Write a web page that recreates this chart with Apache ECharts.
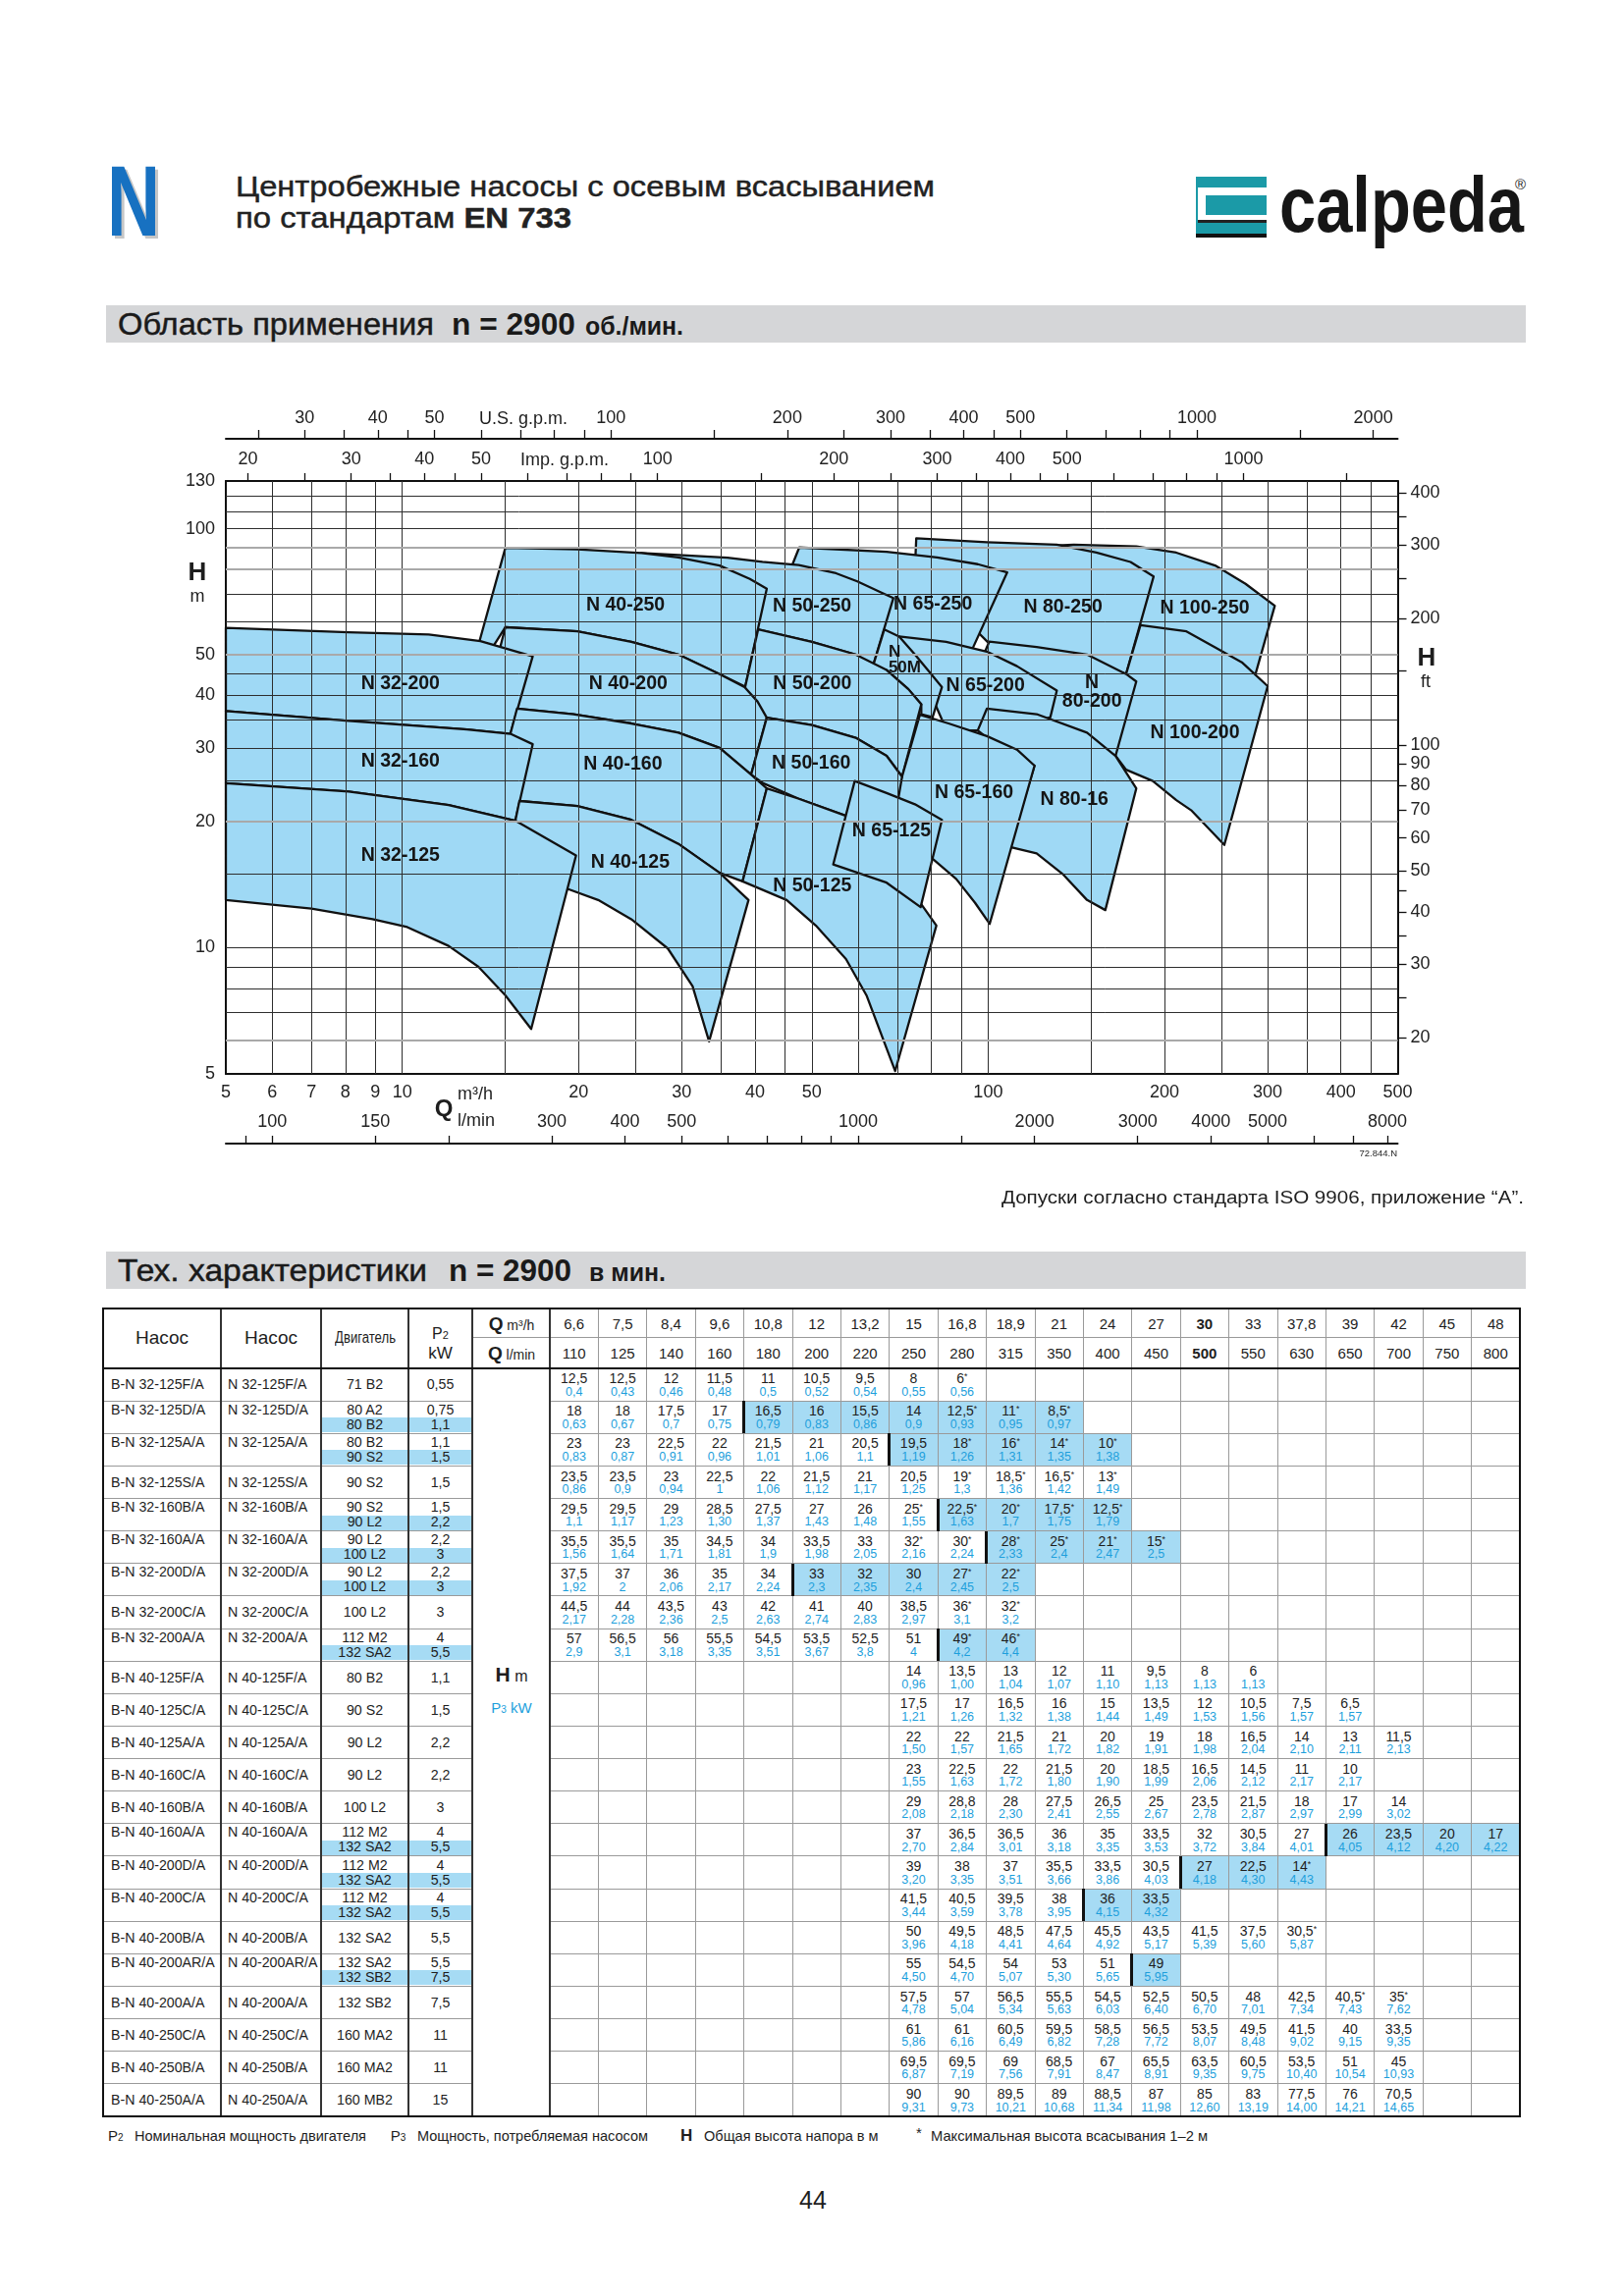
<!DOCTYPE html>
<html><head><meta charset="utf-8"><title>N</title>
<script src="https://cdn.jsdelivr.net/npm/echarts@6.0.0/dist/echarts.min.js"></script>
<style>
html,body{margin:0;padding:0;background:#fff}
body{position:relative;width:1653px;height:2339px;overflow:hidden;font-family:'Liberation Sans',Arial,Helvetica,sans-serif;color:#1e1e1e}
.a{position:absolute;white-space:nowrap}
.st{font-size:0.62em;vertical-align:0.45em;line-height:0}
.med{-webkit-text-stroke:0.45px currentColor}
</style></head>
<body>
<div id="chart" class="a" style="left:0;top:380px;width:1653px;height:880px"></div>
<script>
// ---------------- chart data (Q in m3/h, H in m) ----------------
const N100_250 = [[125,91.0],[140,91.6],[179,90.8],[209.5,87.7],[244,81.7],[275,73.9],[308.5,65.5],[286,45],[244,50],[183,56],[170,70]];
const N80_250  = [[75.4,94.9],[99.5,92.9],[131,91.6],[153,87.7],[175,83.3],[191.6,76.9],[172,45],[150,48],[105,50],[75,80]];
const N65_250  = [[47.6,90.2],[67.1,88.1],[81.8,85.4],[96,82.3],[107.8,78.7],[93.8,51.3],[70,52],[50,62],[46,80]];
const N50_250  = [[24,84],[25.6,87.5],[29.6,86.6],[35.9,85.3],[41.2,83.4],[47.5,81.9],[55,78.3],[59.8,74.9],[65.5,70.6],[68.9,68.3],[63.5,46.7],[59.4,50.1],[50,53.7],[40.7,57.4],[37,55]];
const N40_250  = [[13.4,51],[15,90],[19.9,89.3],[25.6,87.5],[29.6,85.4],[34.8,81.7],[39.2,75.9],[41.9,71.9],[38.5,42],[34.8,45],[29.6,50.1],[24.6,53.7],[19.9,56.9],[15,58.2],[14,50]];
const N100_200 = [[182,58.9],[218,56.9],[244,52.1],[271,48],[300,42.1],[253,17.6],[222,21.3],[209.5,22.5],[191,25],[172,26.6],[165,28.7],[160,35],[172,45]];
const N80_200  = [[100.5,53.8],[121,52.2],[147.5,50.1],[172,45],[179,43.2],[165,28.7],[130,34],[100,36],[95,45]];
const N65_200  = [[70.5,55.3],[84.8,53.7],[99.5,50.9],[112,47],[131,41.1],[127.7,35.5],[110,33],[85,33],[80,40],[72,52]];
const N50M     = [[66.5,57.5],[70.5,55.3],[75,50.1],[79.2,45.7],[83.4,41.9],[80.4,35.5],[76.9,36.1],[76.9,38.1],[73.1,41.4],[67.1,46.0],[63.5,46.7]];
const N50_200  = [[40.5,57.5],[50,53.7],[59.4,50.1],[67.1,46.0],[73.1,41.4],[76.9,38.1],[71.3,25.6],[67.1,28.7],[59.4,31.7],[50,34.0],[41.9,35.4],[38.5,38],[38.5,42]];
const N40_200  = [[15,58.2],[19.9,56.9],[24.6,53.7],[29.6,50.1],[34.8,45.0],[38.4,41.9],[40.4,38.7],[41.9,35.4],[39.4,25.9],[34.8,30.0],[29.6,32.6],[24.6,34.3],[19.6,36.1],[15.7,37.2],[14.3,45]];
const N32_200  = [[5,58],[8.1,56.6],[11.1,55.9],[13.6,53.9],[16.7,49.6],[15.3,32.4],[12.9,33.2],[8.1,34.8],[5,36.7]];
const N80_160  = [[99.5,37.2],[121,36.1],[147.5,32.6],[165,28.7],[179,24],[158.5,12.3],[147.5,13],[134,15],[121,16.8],[109,17.4],[120,27.2],[108,29],[96,33]];
const N65_160  = [[76.5,36.0],[85.6,34.3],[99.5,32.0],[112,29.7],[120,27.2],[100.6,11.4],[95,12.8],[88.2,14.6],[80.4,16.3],[76,20],[68,22],[71.3,25.6]];
const N50_160  = [[41.9,35.4],[50,34],[59.4,31.7],[67.1,28.7],[71.3,25.6],[70,22],[60,20.5],[56.9,20.7],[47.4,22.7],[41.3,24.7],[39.4,25.9]];
const N40_160  = [[15.7,37.2],[19.6,36.1],[24.6,34.3],[29.6,32.6],[34.8,30.0],[39.4,25.9],[41.9,24.0],[38.1,14.4],[34.8,15.1],[29.6,17.7],[24.6,20.2],[19.9,21.8],[15.85,22.4],[15,25],[15.3,32.4]];
const N32_160  = [[5,36.7],[8.1,34.8],[12.9,33.2],[15.3,32.4],[16.7,30.6],[15.6,20.1],[12,21.9],[8.1,23.6],[5,24.7]];
const N50_125  = [[41.9,24.0],[47.4,22.7],[56.9,20.7],[65,18],[76,13],[81.6,11.3],[69.4,5.08],[62,7.7],[57.2,9.4],[50.8,11.3],[45.3,13.0],[38.1,14.4]];
const N65_125  = [[59.2,25.0],[67.1,23.4],[75,22.0],[83.4,20.2],[76.7,12.5],[67.1,14.3],[54.4,15.8]];
const N40_125  = [[15.85,22.4],[19.9,21.8],[24.6,20.2],[29.6,17.7],[34.8,15.1],[39,13.0],[33.4,5.98],[31.3,8.1],[28.4,9.96],[24.6,11.7],[21.6,13.0],[19.2,13.8],[16,12],[15.6,20.1]];
const N32_125  = [[5,24.7],[8.1,23.6],[12,21.9],[15.6,20.1],[19.8,16.6],[16.6,6.4],[15,7.7],[13.5,9.0],[12,10.1],[10.2,11.2],[8.9,11.7],[7.0,12.4],[5,13.0]];
// drawing order (first = lowest)
const REGION_LIST = [N100_250,N80_250,N65_250,N50_250,N40_250,
  N100_200,N80_200,N65_200,N50M,N50_200,N40_200,N32_200,
  N80_160,N65_160,N50_160,N40_160,N32_160,
  N50_125,N65_125,N40_125,N32_125];

const LABEL_NAMES = ['N 40-250','N 50-250','N 65-250','N 80-250','N 100-250','N 32-200','N 40-200','N 50-200','N\n50M','N 65-200','N\n80-200','N 100-200','N 32-160','N 40-160','N 50-160','N 65-160','N 80-16','N 65-125','N 32-125','N 40-125','N 50-125'];
const LABEL_POS = [[24.05,65.6],[50.06,65.2],[80.5,66.0],[134.2,64.9],[234.3,64.5],[9.93,42.6],[24.3,42.7],[50.1,42.6],[67.6,48.5],[98.95,42.3],[150.4,40.7],[225.4,32.5],[9.93,27.8],[23.8,27.4],[49.9,27.5],[94.6,23.4],[140.3,22.6],[68.4,19.0],[9.93,16.6],[24.5,16.0],[50.1,14.0]];

const Q_GRID = [6,7,8,9,10,15,20,25,30,35,40,45,50,60,70,80,90,100,150,200,250,300,350,400,450];
const H_GRID = [7,8,9,10,15,25,30,35,40,45,60,70,100,110,120];
const H_GRID_GRAY = [6,20,50,80,90];

const M3H_LABELS = [5,6,7,8,9,10,20,30,40,50,100,200,300,400,500];
const LMIN_TICKS = [90,100,150,200,300,400,500,600,700,800,900,1000,1500,2000,3000,4000,5000,6000,7000,8000];
const LMIN_LABELS = [100,150,300,400,500,1000,2000,3000,4000,5000,8000];
const US_TICKS = [25,30,35,40,45,50,60,70,80,90,100,150,200,250,300,350,400,450,500,600,700,800,900,1000,1500,2000];
const US_LABELS = [30,40,50,100,200,300,400,500,1000,2000];
const IMP_TICKS = [20,25,30,35,40,45,50,60,70,80,90,100,150,200,250,300,350,400,450,500,600,700,800,900,1000,1500];
const IMP_LABELS = [20,30,40,50,100,200,300,400,500,1000];
const HM_LABELS = [5,10,20,30,40,50,100,130];
const FT_TICKS = [20,25,30,35,40,45,50,60,70,80,90,100,150,200,250,300,350,400];
const FT_LABELS = [20,30,40,50,60,70,80,90,100,200,300,400];

// ---------------- table data ----------------
const Q_M3H = ['6,6','7,5','8,4','9,6','10,8','12','13,2','15','16,8','18,9','21','24','27','30','33','37,8','39','42','45','48'];
const Q_LMIN = ['110','125','140','160','180','200','220','250','280','315','350','400','450','500','550','630','650','700','750','800'];
const PUMP_B = ['B-N 32-125F/A','B-N 32-125D/A','B-N 32-125A/A','B-N 32-125S/A','B-N 32-160B/A','B-N 32-160A/A','B-N 32-200D/A','B-N 32-200C/A','B-N 32-200A/A','B-N 40-125F/A','B-N 40-125C/A','B-N 40-125A/A','B-N 40-160C/A','B-N 40-160B/A','B-N 40-160A/A','B-N 40-200D/A','B-N 40-200C/A','B-N 40-200B/A','B-N 40-200AR/A','B-N 40-200A/A','B-N 40-250C/A','B-N 40-250B/A','B-N 40-250A/A'];
const PUMP_N = ['N 32-125F/A','N 32-125D/A','N 32-125A/A','N 32-125S/A','N 32-160B/A','N 32-160A/A','N 32-200D/A','N 32-200C/A','N 32-200A/A','N 40-125F/A','N 40-125C/A','N 40-125A/A','N 40-160C/A','N 40-160B/A','N 40-160A/A','N 40-200D/A','N 40-200C/A','N 40-200B/A','N 40-200AR/A','N 40-200A/A','N 40-250C/A','N 40-250B/A','N 40-250A/A'];
const MOTOR = [['71 B2'],['80 A2','80 B2'],['80 B2','90 S2'],['90 S2'],['90 S2','90 L2'],['90 L2','100 L2'],['90 L2','100 L2'],['100 L2'],['112 M2','132 SA2'],['80 B2'],['90 S2'],['90 L2'],['90 L2'],['100 L2'],['112 M2','132 SA2'],['112 M2','132 SA2'],['112 M2','132 SA2'],['132 SA2'],['132 SA2','132 SB2'],['132 SB2'],['160 MA2'],['160 MA2'],['160 MB2']];
const P2 = [['0,55'],['0,75','1,1'],['1,1','1,5'],['1,5'],['1,5','2,2'],['2,2','3'],['2,2','3'],['3'],['4','5,5'],['1,1'],['1,5'],['2,2'],['2,2'],['3'],['4','5,5'],['4','5,5'],['4','5,5'],['5,5'],['5,5','7,5'],['7,5'],['11'],['11'],['15']];
const START_COL = [0,0,0,0,0,0,0,0,0,7,7,7,7,7,7,7,7,7,7,7,7,7,7];
const HIGHLIGHT = [null,[4,10],[7,11],null,[8,11],[9,12],[5,9],null,[8,9],null,null,null,null,null,[16,19],[13,15],[11,12],null,[12,12],null,null,null,null];
const H_VALUES = [
 ['12,5','12,5','12','11,5','11','10,5','9,5','8','6*'],
 ['18','18','17,5','17','16,5','16','15,5','14','12,5*','11*','8,5*'],
 ['23','23','22,5','22','21,5','21','20,5','19,5','18*','16*','14*','10*'],
 ['23,5','23,5','23','22,5','22','21,5','21','20,5','19*','18,5*','16,5*','13*'],
 ['29,5','29,5','29','28,5','27,5','27','26','25*','22,5*','20*','17,5*','12,5*'],
 ['35,5','35,5','35','34,5','34','33,5','33','32*','30*','28*','25*','21*','15*'],
 ['37,5','37','36','35','34','33','32','30','27*','22*'],
 ['44,5','44','43,5','43','42','41','40','38,5','36*','32*'],
 ['57','56,5','56','55,5','54,5','53,5','52,5','51','49*','46*'],
 ['14','13,5','13','12','11','9,5','8','6'],
 ['17,5','17','16,5','16','15','13,5','12','10,5','7,5','6,5'],
 ['22','22','21,5','21','20','19','18','16,5','14','13','11,5'],
 ['23','22,5','22','21,5','20','18,5','16,5','14,5','11','10'],
 ['29','28,8','28','27,5','26,5','25','23,5','21,5','18','17','14'],
 ['37','36,5','36,5','36','35','33,5','32','30,5','27','26','23,5','20','17'],
 ['39','38','37','35,5','33,5','30,5','27','22,5','14*'],
 ['41,5','40,5','39,5','38','36','33,5'],
 ['50','49,5','48,5','47,5','45,5','43,5','41,5','37,5','30,5*'],
 ['55','54,5','54','53','51','49'],
 ['57,5','57','56,5','55,5','54,5','52,5','50,5','48','42,5','40,5*','35*'],
 ['61','61','60,5','59,5','58,5','56,5','53,5','49,5','41,5','40','33,5'],
 ['69,5','69,5','69','68,5','67','65,5','63,5','60,5','53,5','51','45'],
 ['90','90','89,5','89','88,5','87','85','83','77,5','76','70,5']];
const P3_VALUES = [
 ['0,4','0,43','0,46','0,48','0,5','0,52','0,54','0,55','0,56'],
 ['0,63','0,67','0,7','0,75','0,79','0,83','0,86','0,9','0,93','0,95','0,97'],
 ['0,83','0,87','0,91','0,96','1,01','1,06','1,1','1,19','1,26','1,31','1,35','1,38'],
 ['0,86','0,9','0,94','1','1,06','1,12','1,17','1,25','1,3','1,36','1,42','1,49'],
 ['1,1','1,17','1,23','1,30','1,37','1,43','1,48','1,55','1,63','1,7','1,75','1,79'],
 ['1,56','1,64','1,71','1,81','1,9','1,98','2,05','2,16','2,24','2,33','2,4','2,47','2,5'],
 ['1,92','2','2,06','2,17','2,24','2,3','2,35','2,4','2,45','2,5'],
 ['2,17','2,28','2,36','2,5','2,63','2,74','2,83','2,97','3,1','3,2'],
 ['2,9','3,1','3,18','3,35','3,51','3,67','3,8','4','4,2','4,4'],
 ['0,96','1,00','1,04','1,07','1,10','1,13','1,13','1,13'],
 ['1,21','1,26','1,32','1,38','1,44','1,49','1,53','1,56','1,57','1,57'],
 ['1,50','1,57','1,65','1,72','1,82','1,91','1,98','2,04','2,10','2,11','2,13'],
 ['1,55','1,63','1,72','1,80','1,90','1,99','2,06','2,12','2,17','2,17'],
 ['2,08','2,18','2,30','2,41','2,55','2,67','2,78','2,87','2,97','2,99','3,02'],
 ['2,70','2,84','3,01','3,18','3,35','3,53','3,72','3,84','4,01','4,05','4,12','4,20','4,22'],
 ['3,20','3,35','3,51','3,66','3,86','4,03','4,18','4,30','4,43'],
 ['3,44','3,59','3,78','3,95','4,15','4,32'],
 ['3,96','4,18','4,41','4,64','4,92','5,17','5,39','5,60','5,87'],
 ['4,50','4,70','5,07','5,30','5,65','5,95'],
 ['4,78','5,04','5,34','5,63','6,03','6,40','6,70','7,01','7,34','7,43','7,62'],
 ['5,86','6,16','6,49','6,82','7,28','7,72','8,07','8,48','9,02','9,15','9,35'],
 ['6,87','7,19','7,56','7,91','8,47','8,91','9,35','9,75','10,40','10,54','10,93'],
 ['9,31','9,73','10,21','10,68','11,34','11,98','12,60','13,19','14,00','14,21','14,65']];

// unit conversions
const M3H_TO_LMIN = 1000/60, M3H_TO_USGPM = 4.40287, M3H_TO_IMPGPM = 3.66615, M_TO_FT = 3.28084;

// ---------------- helpers ----------------
const ASC = 0.8465;
function T(html, x, base, fs, o) {
  o = o || {};
  const e = document.createElement('div');
  e.className = 'a' + (o.cls ? ' ' + o.cls : '');
  e.innerHTML = html;
  e.style.fontSize = fs + 'px';
  e.style.lineHeight = fs + 'px';
  e.style.top = (base - ASC * fs) + 'px';
  if (o.bold) e.style.fontWeight = 'bold';
  if (o.color) e.style.color = o.color;
  if (o.family) e.style.fontFamily = o.family;
  if (o.style) Object.assign(e.style, o.style);
  document.body.appendChild(e);
  if (o.box) { e.style.left = o.box[0] + 'px'; e.style.width = o.box[1] + 'px'; e.style.textAlign = 'center'; return e; }
  const w = e.getBoundingClientRect().width;
  const s = o.w ? o.w / w : 1;
  const al = o.align || 'left';
  const left = al === 'left' ? x : (al === 'center' ? x - w * s / 2 : x - w * s);
  e.style.left = left + 'px';
  if (s !== 1) { e.style.transformOrigin = '0 0'; e.style.transform = 'scaleX(' + s.toFixed(4) + ')'; }
  return e;
}
function R(x, y, w, h, c) {
  const d = document.createElement('div');
  d.className = 'a';
  Object.assign(d.style, {left: x + 'px', top: y + 'px', width: w + 'px', height: h + 'px', background: c});
  document.body.appendChild(d);
  return d;
}
const star = s => s.replace('*', '<span class="st">*</span>');

// ---------------- page header ----------------
T('N', 109, 240, 102, {bold: true, color: '#1771c1', w: 54, style: {textShadow: '4px 3px 0 #c6c6c6'}});
T('Центробежные насосы с осевым всасыванием', 240, 201, 29, {w: 712, color: '#222', cls: 'med'});
T('по стандартам <b>EN 733</b>', 240, 233, 29, {w: 342, color: '#222', cls: 'med'});
// logo
R(1218, 238, 72, 4, '#111');
R(1218, 180, 72, 58, '#1b9aa7');
R(1220, 191, 70, 36, '#fff');
R(1228, 199, 62, 20, '#1b9aa7');
R(1220, 224, 70, 3, '#222');
T('calpeda', 1303, 237, 80, {bold: true, w: 249, color: '#161616'});
T('®', 1543, 193, 15, {color: '#222'});
// section bands
R(108, 311, 1446, 38, '#d5d6d8');
T('Область применения', 120, 341, 31, {w: 322, color: '#1a1a1a', cls: 'med'});
T('n = 2900', 460, 341, 31, {bold: true, w: 126, color: '#1a1a1a'});
T('об./мин.', 596, 341, 25, {bold: true, w: 100, color: '#1a1a1a'});
R(108, 1275, 1446, 38, '#d5d6d8');
T('Тех. характеристики', 120, 1305, 31, {w: 315, color: '#1a1a1a', cls: 'med'});
T('n = 2900', 457, 1305, 31, {bold: true, w: 125, color: '#1a1a1a'});
T('в мин.', 600, 1305, 25, {bold: true, w: 78, color: '#1a1a1a'});

// ---------------- chart ----------------
const chart = echarts.init(document.getElementById('chart'), null, {renderer: 'canvas'});
const fmt = v => String(Math.round(v));
const AX = {color: '#111', width: 2};
const LBL = {fontSize: 18, color: '#222', formatter: fmt};
const option = {
  animation: false,
  textStyle: {fontFamily: "'Liberation Sans', Arial, sans-serif"},
  grid: {left: 230, top: 110, width: 1193.5, height: 604, show: false},
  xAxis: [
    {type: 'log', min: 5, max: 500, position: 'bottom', axisLine: {show: true, onZero: false, lineStyle: AX}, axisTick: {show: false}, splitLine: {show: false}, axisLabel: Object.assign({customValues: M3H_LABELS, margin: 10}, LBL)},
    {type: 'log', min: 5 * M3H_TO_LMIN, max: 500 * M3H_TO_LMIN, position: 'bottom', offset: 71, axisLine: {show: true, onZero: false, lineStyle: AX}, axisTick: {show: true, inside: true, length: 8, customValues: LMIN_TICKS, lineStyle: {color: '#111', width: 1.3}}, splitLine: {show: false}, axisLabel: Object.assign({inside: true, customValues: LMIN_LABELS, margin: 13}, LBL)},
    {type: 'log', min: 5 * M3H_TO_USGPM, max: 500 * M3H_TO_USGPM, position: 'top', offset: 43, axisLine: {show: true, onZero: false, lineStyle: AX}, axisTick: {show: true, length: 9, customValues: US_TICKS, lineStyle: {color: '#111', width: 1.3}}, splitLine: {show: false}, axisLabel: Object.assign({customValues: US_LABELS, margin: 12}, LBL)},
    {type: 'log', min: 5 * M3H_TO_IMPGPM, max: 500 * M3H_TO_IMPGPM, position: 'top', offset: 0, axisLine: {show: true, onZero: false, lineStyle: AX}, axisTick: {show: true, length: 8, customValues: IMP_TICKS, lineStyle: {color: '#111', width: 1.3}}, splitLine: {show: false}, axisLabel: Object.assign({customValues: IMP_LABELS, margin: 13}, LBL)}
  ],
  yAxis: [
    {type: 'log', min: 5, max: 130, position: 'left', axisLine: {show: true, onZero: false, lineStyle: AX}, axisTick: {show: false}, splitLine: {show: false}, axisLabel: Object.assign({customValues: HM_LABELS, margin: 11}, LBL)},
    {type: 'log', min: 5 * M_TO_FT, max: 130 * M_TO_FT, position: 'right', axisLine: {show: true, onZero: false, lineStyle: AX}, axisTick: {show: true, length: 9, customValues: FT_TICKS, lineStyle: {color: '#111', width: 1.3}}, splitLine: {show: false}, axisLabel: Object.assign({customValues: FT_LABELS, margin: 13}, LBL)}
  ],
  series: [
    {
      type: 'custom', name: 'regions', z: 2, xAxisIndex: 0, yAxisIndex: 0,
      encode: {x: 0, y: 1},
      data: REGION_LIST.map(r => r[0]),
      renderItem: function (params, api) {
        const pts = REGION_LIST[params.dataIndex].map(p => api.coord(p));
        return {type: 'polygon', shape: {points: pts}, style: {fill: '#9fd9f5', stroke: '#111', lineWidth: 2.3, lineJoin: 'round'}};
      },
      silent: true
    },
    {
      type: 'line', name: 'grid', z: 3, xAxisIndex: 0, yAxisIndex: 0, data: [[5, 5]], showSymbol: false, lineStyle: {width: 0}, silent: true,
      markLine: {
        silent: true, symbol: ['none', 'none'], label: {show: false}, z: 3, animation: false,
        lineStyle: {color: '#2e2e2e', width: 1, type: 'solid'},
        data: Q_GRID.map(v => ({xAxis: v})).concat(H_GRID.map(v => ({yAxis: v})))
          .concat(H_GRID_GRAY.map(v => ({yAxis: v, lineStyle: {color: '#a9a9a9', width: 2, type: 'solid'}})))
      }
    },
    {
      type: 'scatter', name: 'labels', z: 6, xAxisIndex: 0, yAxisIndex: 0, symbolSize: 2,
      itemStyle: {color: 'rgba(0,0,0,0)'}, silent: true,
      label: {show: true, position: 'inside', formatter: '{b}', fontSize: 19.5, fontWeight: 'bold', color: '#151515', lineHeight: 19, opacity: 1},
      labelLayout: {hideOverlap: false},
      data: LABEL_POS.map((p, i) => {
        const d = {value: p, name: LABEL_NAMES[i]};
        if (LABEL_NAMES[i] === 'N\n50M') d.label = {align: 'left', fontSize: 17, lineHeight: 16};
        return d;
      })
    }
  ]
};
chart.setOption(option);

// chart annotations
T('U.S. g.p.m.', 533, 432.4, 18, {align: 'center'});
T('Imp. g.p.m.', 575, 474.4, 18, {align: 'center'});
T('H', 201, 591.3, 26, {bold: true, align: 'center'});
T('m', 201, 613.3, 18, {align: 'center'});
T('H', 1453, 678.3, 26, {bold: true, align: 'center'});
T('ft', 1452, 700, 18, {align: 'center'});
T('Q', 452, 1137, 24, {bold: true, align: 'center'});
T('m³/h', 466, 1120, 18);
T('l/min', 466, 1147, 18);
T('72.844.N', 1423, 1178, 9.5, {align: 'right'});
T('Допуски согласно стандарта ISO 9906, приложение “A”.', 1552, 1226, 18, {align: 'right', w: 532});

// ---------------- table ----------------
const TR = 1548, CW = (TR - 560) / 20;
const TY0 = 1333, TY1 = 1362, TY2 = 1394, TB = 2156, RH = (TB - TY2) / 23;
const BLUE_BG = '#a6dbf4', P3C = '#1e9fdc';
for (let i = 0; i < 23; i++) {
  const top = TY2 + i * RH;
  if (MOTOR[i].length === 2) R(327, top + 17, 154, 15, BLUE_BG);
  if (HIGHLIGHT[i]) R(560 + HIGHLIGHT[i][0] * CW, top, (HIGHLIGHT[i][1] - HIGHLIGHT[i][0] + 1) * CW, RH, BLUE_BG);
}
for (let k = 1; k < 20; k++) R(560 + k * CW - 0.5, TY0, 1, TB - TY0, '#9a9a9a');
R(481, TY1, TR - 481, 1, '#9a9a9a');
for (let i = 1; i < 23; i++) {
  const y = TY2 + i * RH - 0.5;
  R(105, y, 376, 1, '#9a9a9a');
  R(560, y, TR - 560, 1, '#9a9a9a');
}
[225, 327, 416, 481, 560].forEach(x => R(x - 0.75, TY0, 1.5, TB - TY0, '#333'));
R(105, TY2 - 1, TR - 105, 2, '#111');
R(104, TY0 - 1, TR - 104 + 1, 2, '#111');
R(104, TB - 1, TR - 104 + 1, 2, '#111');
R(104, TY0 - 1, 2, TB - TY0 + 1, '#111');
R(TR - 1, TY0 - 1, 2, TB - TY0 + 1, '#111');
for (let i = 0; i < 23; i++) {
  if (HIGHLIGHT[i]) R(560 + HIGHLIGHT[i][0] * CW - 1.5, TY2 + i * RH, 3, RH, '#111');
}
T('Насос', 0, 1369, 19, {box: [105, 120]});
T('Насос', 0, 1369, 19, {box: [225, 102]});
T('Двигатель', 371.5, 1369, 16, {align: 'center', w: 62});
T('P<span style="font-size:11px">2</span>', 448.5, 1365, 16, {align: 'center'});
T('kW', 448.5, 1384, 17, {align: 'center'});
T('<b style="font-size:19px">Q</b> m³/h', 521, 1354, 14, {align: 'center'});
T('<b style="font-size:19px">Q</b> l/min', 521, 1384, 14, {align: 'center'});
for (let k = 0; k < 20; k++) {
  T(Q_M3H[k], 0, 1354, 15, {box: [560 + k * CW, CW], bold: k === 13});
  T(Q_LMIN[k], 0, 1384, 15, {box: [560 + k * CW, CW], bold: k === 13});
}
for (let i = 0; i < 23; i++) {
  const top = TY2 + i * RH;
  const two = MOTOR[i].length === 2;
  const b1 = two ? top + 13.6 : top + 21.5;
  T(PUMP_B[i], 113, b1, 14.2);
  T(PUMP_N[i], 232, b1, 14.2);
  T(MOTOR[i][0], 0, b1, 14.2, {box: [327, 89]});
  T(P2[i][0], 0, b1, 14.2, {box: [416, 65]});
  if (two) {
    T(MOTOR[i][1], 0, top + 28.6, 14.2, {box: [327, 89]});
    T(P2[i][1], 0, top + 28.6, 14.2, {box: [416, 65]});
  }
  for (let j = 0; j < H_VALUES[i].length; j++) {
    const c = START_COL[i] + j;
    T(star(H_VALUES[i][j]), 0, top + 15, 14, {box: [560 + c * CW, CW]});
    T(P3_VALUES[i][j], 0, top + 28.3, 12.5, {box: [560 + c * CW, CW], color: P3C});
  }
}
T('<b style="font-size:21px">H</b> m', 521, 1711.7, 16, {align: 'center'});
T('P<span style="font-size:10px">3</span> kW', 521, 1745, 15, {align: 'center', color: P3C});
T('P<span style="font-size:10px">2</span>', 110, 2180.7, 15);
T('Номинальная мощность двигателя', 137, 2180.7, 15, {w: 236});
T('P<span style="font-size:10px">3</span>', 397.7, 2180.7, 15);
T('Мощность, потребляемая насосом', 425, 2180.7, 15, {w: 235});
T('H', 693, 2181, 17, {bold: true});
T('Общая высота напора в м', 716.7, 2180.7, 15, {w: 177.6});
T('*', 933, 2178, 15);
T('Максимальная высота всасывания 1–2 м', 948.3, 2180.7, 15, {w: 282});
T('44', 828, 2250, 25, {align: 'center'});
</script>
</body></html>
